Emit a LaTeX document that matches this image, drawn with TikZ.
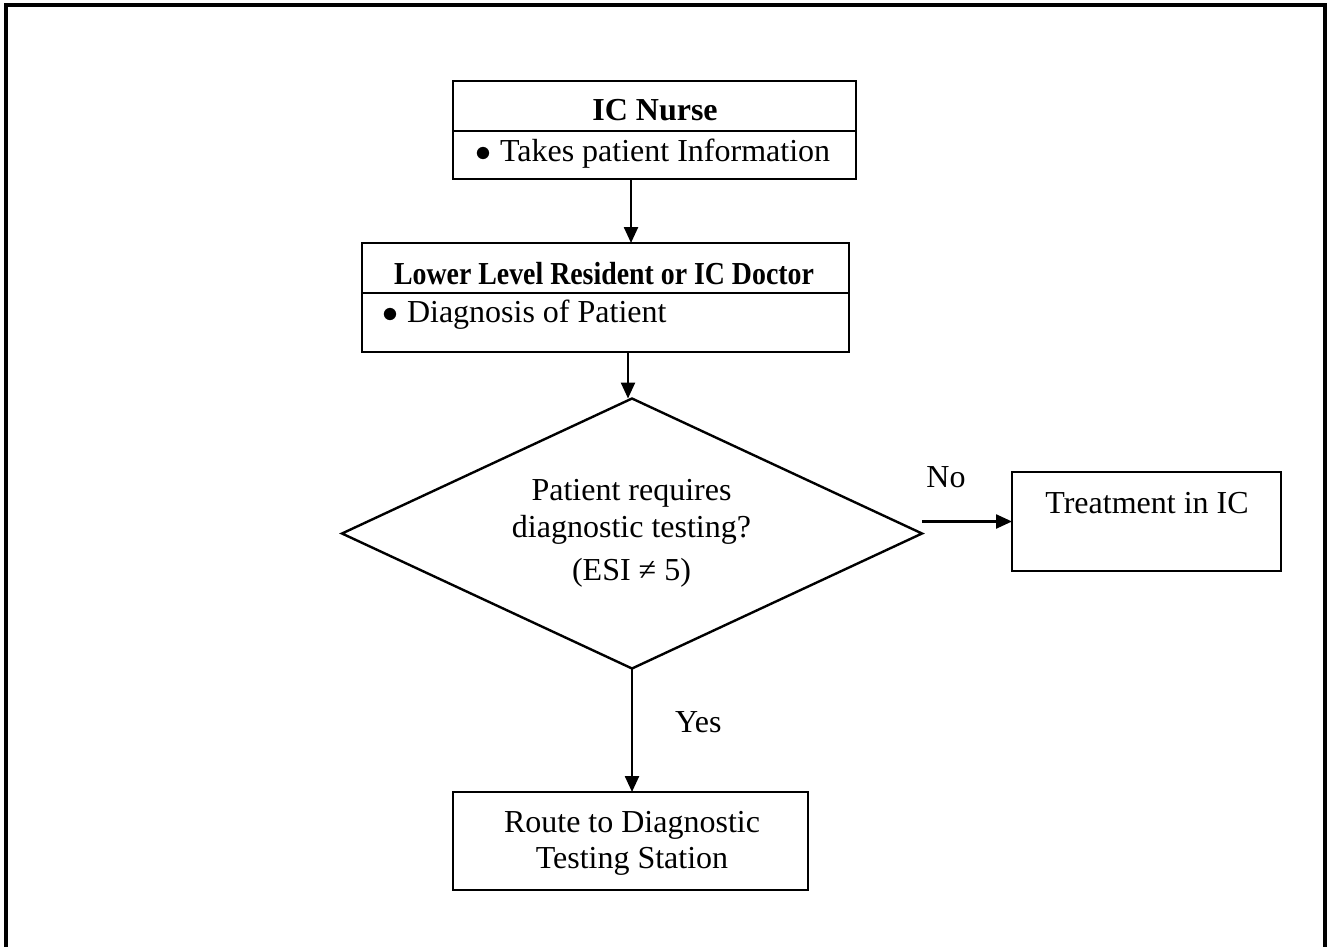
\RequirePackage{fix-cm}
\documentclass[tikz,border=0pt]{standalone}
\usepackage{fontspec}
\setmainfont{Liberation Serif}
\usetikzlibrary{arrows.meta,shapes.geometric}

\newcommand{\bul}{$\bullet$\hspace{9pt}}

\begin{document}
\begin{tikzpicture}[
  x=1pt, y=-1pt,
  every node/.style={font=\fontsize{32}{38}\selectfont, inner sep=0pt, outer sep=0pt},
  box/.style={draw, line width=2.4pt, rectangle, minimum width=#1},
  decision/.style={draw, line width=2.4pt, diamond, minimum width=580pt, minimum height=270pt},
  txt/.style={anchor=base},
  arr/.style={line width=2.4pt, -{Triangle[length=16pt,width=14pt]}}
]
\useasboundingbox (0,0) rectangle (1327,947);

% outer frame (bottom edge lies below the page)
\draw[line width=3.5pt] (6,960) -- (6,5) -- (1325,5) -- (1325,960);

% IC nurse box
\node[box=403pt, minimum height=98pt] (nurse) at (654.5,130) {};
\draw[line width=2.4pt] (nurse.west |- 0,131) -- (nurse.east |- 0,131);
\node[txt, font=\fontsize{32}{38}\selectfont\bfseries] (nurseT) at (655,121) {IC Nurse};
\node[txt, anchor=base west] (nurseB) at (475,161) {\bul Takes patient Information};

% resident / doctor box
\node[box=487pt, minimum height=109pt] (doc) at (605.5,297.5) {};
\draw[line width=2.4pt] (doc.west |- 0,293) -- (doc.east |- 0,293);
\node[txt, font=\fontsize{32}{38}\selectfont\bfseries] (docT) at (604,284) {\scalebox{0.87}[1]{Lower Level Resident or IC Doctor}};
\node[txt, anchor=base west] (docB) at (382,322) {\bul Diagnosis of Patient};

% decision
\node[decision] (dec) at (632,533.5) {};
\node[txt] (dec1) at (631.5,500) {Patient requires};
\node[txt] (dec2) at (631.5,537) {diagnostic testing?};
\node[txt] (dec3) at (631.5,580) {(ESI ≠ 5)};

% outcomes
\node[box=269pt, minimum height=99pt] (treat) at (1146.5,521.5) {};
\node[txt] (treatT) at (1147,513) {Treatment in IC};

\node[box=355pt, minimum height=98pt] (route) at (630.5,841) {};
\node[txt] (route1) at (632,832) {Route to Diagnostic};
\node[txt] (route2) at (632,868) {Testing Station};

% connectors
\draw[arr] (nurse.south -| 631,0) -- (doc.north -| 631,0);
\draw[arr] (doc.south -| 628,0) -- (dec.north -| 628,0);
\draw[arr] (dec.south) -- (route.north -| dec.south);
\draw[arr] (treat.west -| dec.east) -- (treat.west);

\node[txt] (no) at (946,487) {No};
\node[txt, anchor=base west] (yes) at (675,732) {Yes};
\end{tikzpicture}
\end{document}
